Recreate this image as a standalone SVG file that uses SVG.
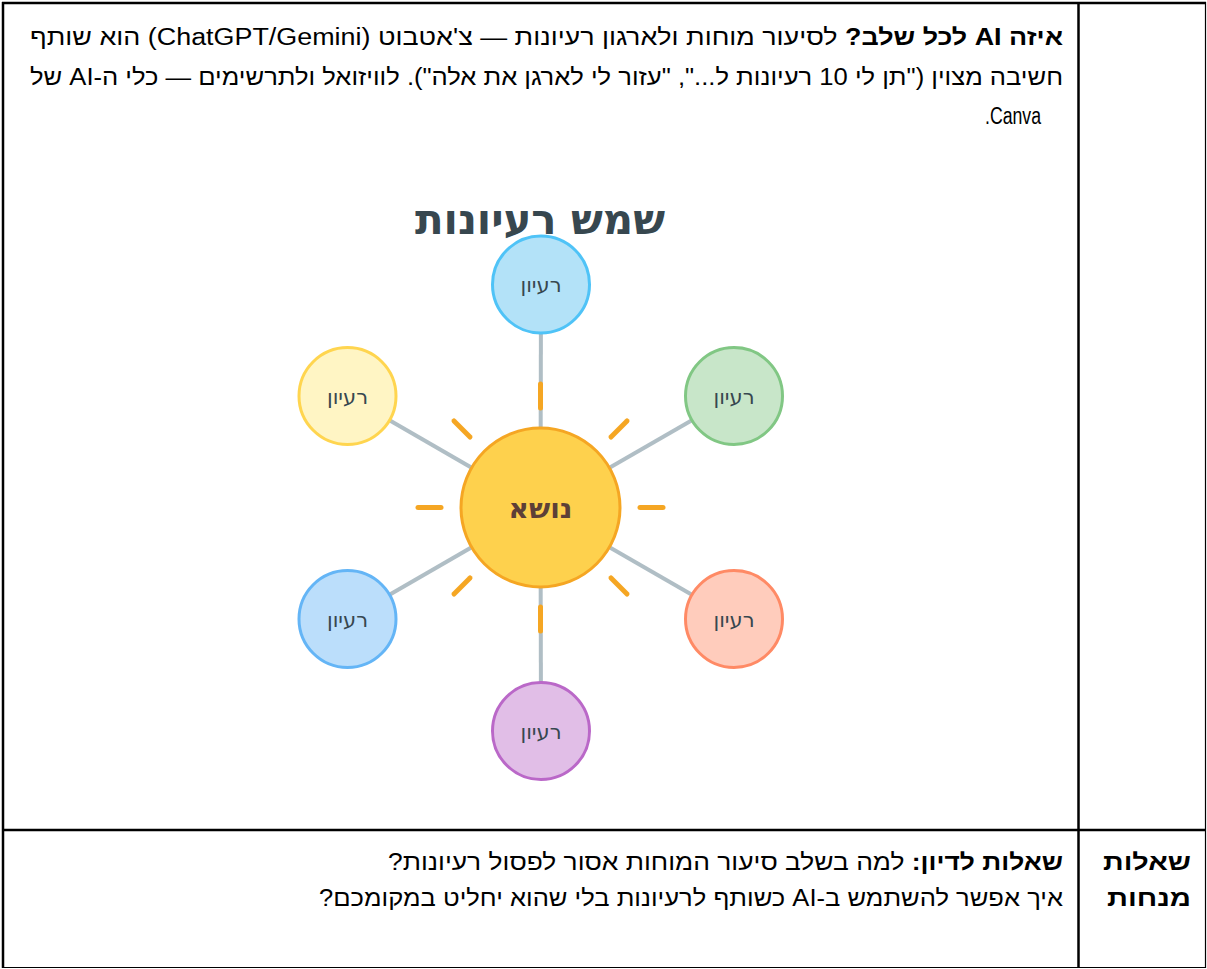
<svg xmlns="http://www.w3.org/2000/svg" width="1207" height="969" viewBox="0 0 1207 969">
<style>
  .tbl { fill: none; stroke: #000; }
  .para { font-family: "Liberation Sans", "DejaVu Sans", sans-serif; font-size: 23px; fill: #000; direction: rtl; unicode-bidi: embed; text-anchor: start; }
  .b { font-weight: bold; }
  .title { font-family: "DejaVu Sans", sans-serif; font-size: 42px; font-weight: bold; fill: #37474f; text-anchor: middle; direction: rtl; }
  .idea { font-family: "DejaVu Sans", sans-serif; font-size: 21px; fill: #37474f; text-anchor: middle; direction: rtl; }
  .topic { font-family: "DejaVu Sans", sans-serif; font-size: 28px; font-weight: bold; fill: #5d4037; text-anchor: middle; direction: rtl; }
  .conn { stroke: #b0bec5; stroke-width: 4; }
  .ray { stroke: #f5a623; stroke-width: 5; stroke-linecap: round; }
  .node { stroke-width: 3; }
</style>
<rect width="1207" height="969" fill="#fff"/>

<g id="table">
  <line class="tbl" x1="2" y1="3" x2="1206" y2="3" stroke-width="2.5"/>
  <line class="tbl" x1="3" y1="2" x2="3" y2="968" stroke-width="2.5"/>
  <line class="tbl" x1="1078.5" y1="2" x2="1078.5" y2="968" stroke-width="2.5"/>
  <line class="tbl" x1="2" y1="830" x2="1206" y2="830" stroke-width="2.5"/>
  <line class="tbl" x1="1205.5" y1="2" x2="1205.5" y2="968" stroke-width="1.2"/>
  <line class="tbl" x1="2" y1="967.5" x2="1206" y2="967.5" stroke-width="1.2"/>
</g>

<g id="intro-text">
  <text class="para" x="1063" y="45" textLength="1033" lengthAdjust="spacingAndGlyphs"><tspan class="b">איזה AI לכל שלב?</tspan> לסיעור מוחות ולארגון רעיונות — צ'אטבוט (ChatGPT/Gemini) הוא שותף</text>
  <text class="para" x="1063" y="85" textLength="1033" lengthAdjust="spacingAndGlyphs">חשיבה מצוין ("תן לי 10 רעיונות ל...", "עזור לי לארגן את אלה"). לוויזואל ולתרשימים — כלי ה-AI של</text>
  <text class="para" x="1041" y="124" textLength="56" lengthAdjust="spacingAndGlyphs">Canva.</text>
</g>

<text class="title" x="540" y="234" textLength="250" lengthAdjust="spacing">שמש רעיונות</text>

<g id="connectors">
  <line class="conn" x1="540.5" y1="507.5" x2="541" y2="284.5"/>
  <line class="conn" x1="540.5" y1="507.5" x2="734" y2="396"/>
  <line class="conn" x1="540.5" y1="507.5" x2="734" y2="619"/>
  <line class="conn" x1="540.5" y1="507.5" x2="541" y2="731"/>
  <line class="conn" x1="540.5" y1="507.5" x2="347.5" y2="619"/>
  <line class="conn" x1="540.5" y1="507.5" x2="347.5" y2="396"/>
</g>

<g id="rays">
  <line class="ray" x1="540.5" y1="384" x2="540.5" y2="408"/>
  <line class="ray" x1="540.5" y1="607" x2="540.5" y2="631"/>
  <line class="ray" x1="418" y1="507.5" x2="441" y2="507.5"/>
  <line class="ray" x1="640" y1="507.5" x2="663" y2="507.5"/>
  <line class="ray" x1="454" y1="421" x2="470" y2="437"/>
  <line class="ray" x1="627" y1="421" x2="611" y2="437"/>
  <line class="ray" x1="454" y1="594" x2="470" y2="578"/>
  <line class="ray" x1="627" y1="594" x2="611" y2="578"/>
</g>

<g id="node-center">
  <circle class="node" cx="540.5" cy="507.5" r="79.5" fill="#fed14d" stroke="#f5a623"/>
  <text class="topic" x="540.5" y="518">נושא</text>
</g>
<g id="node-top">
  <circle class="node" cx="541" cy="284.5" r="48.5" fill="#b3e2f8" stroke="#4fc3f7"/>
  <text class="idea" x="541" y="292">רעיון</text>
</g>
<g id="node-upper-right">
  <circle class="node" cx="734" cy="396" r="48.5" fill="#c8e6c9" stroke="#81c784"/>
  <text class="idea" x="734" y="403.5">רעיון</text>
</g>
<g id="node-lower-right">
  <circle class="node" cx="734" cy="619" r="48.5" fill="#ffccbc" stroke="#ff8a65"/>
  <text class="idea" x="734" y="626.5">רעיון</text>
</g>
<g id="node-bottom">
  <circle class="node" cx="541" cy="731" r="48.5" fill="#e1bee7" stroke="#ba68c8"/>
  <text class="idea" x="541" y="738.5">רעיון</text>
</g>
<g id="node-lower-left">
  <circle class="node" cx="347.5" cy="619" r="48.5" fill="#bbdefb" stroke="#64b5f6"/>
  <text class="idea" x="347.5" y="626.5">רעיון</text>
</g>
<g id="node-upper-left">
  <circle class="node" cx="347.5" cy="396" r="48.5" fill="#fff5c4" stroke="#ffd54f"/>
  <text class="idea" x="347.5" y="403.5">רעיון</text>
</g>

<g id="questions">
  <text class="para" x="1063" y="870" textLength="675" lengthAdjust="spacingAndGlyphs"><tspan class="b">שאלות לדיון:</tspan> למה בשלב סיעור המוחות אסור לפסול רעיונות?</text>
  <text class="para" x="1063" y="906" textLength="744" lengthAdjust="spacingAndGlyphs">איך אפשר להשתמש ב-AI כשותף לרעיונות בלי שהוא יחליט במקומכם?</text>
</g>
<g id="header-cell">
  <text class="para b" x="1191" y="870" textLength="88" lengthAdjust="spacingAndGlyphs" font-size="24">שאלות</text>
  <text class="para b" x="1191" y="906" textLength="84" lengthAdjust="spacingAndGlyphs" font-size="24">מנחות</text>
</g>
</svg>
